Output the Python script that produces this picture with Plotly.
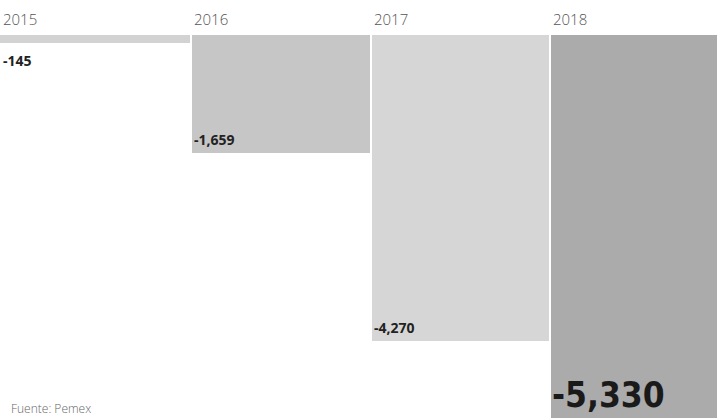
import plotly.graph_objects as go

years = ["2015", "2016", "2017", "2018"]
values = [-145, -1659, -4270, -5330]
value_labels = ["-145", "-1,659", "-4,270", "-5,330"]
bar_colors = ["#d2d2d2", "#c6c6c6", "#d6d6d6", "#ababab"]
source = "Fuente: Pemex"

x_pos = list(range(len(years)))
x_lo, x_hi = -0.565, 3.43
bar_widths = [1.2, 1, 1, 1]
bar_offsets = [-0.7, -0.5, -0.5, -0.5]

fig = go.Figure()
fig.add_trace(go.Bar(
    x=x_pos, y=values, width=bar_widths, offset=bar_offsets,
    marker=dict(color=bar_colors, line=dict(color="white", width=2)),
    hoverinfo="skip", showlegend=False,
))

ann = []
for i, (yr, v, lab) in enumerate(zip(years, values, value_labels)):
    left = max(i + bar_offsets[i], x_lo)
    ann.append(dict(x=left, y=0, xref="x", yref="y", text=yr, showarrow=False,
                    xanchor="left", yanchor="bottom", xshift=1, yshift=3,
                    font=dict(family="Open Sans", size=15, color="#555", weight=300)))
    if i == 0:
        ann.append(dict(x=left, y=v, xref="x", yref="y", text=lab, showarrow=False,
                        xanchor="left", yanchor="top", xshift=1, yshift=-5,
                        font=dict(family="Open Sans", size=14, color="#222", weight=700)))
    elif i == len(years) - 1:
        ann.append(dict(x=left, y=v, xref="x", yref="y", text=lab, showarrow=False,
                        xanchor="left", yanchor="bottom", xshift=0, yshift=2,
                        font=dict(family="DejaVu Sans Condensed, Roboto Condensed, Arial Narrow, sans-serif",
                                  size=35, color="#1a1a1a", weight=700)))
    else:
        ann.append(dict(x=left, y=v, xref="x", yref="y", text=lab, showarrow=False,
                        xanchor="left", yanchor="bottom", xshift=1, yshift=3,
                        font=dict(family="Open Sans", size=14, color="#222", weight=700)))

ann.append(dict(x=0.012, y=0.0, xref="paper", yref="paper", text=source, showarrow=False,
                xanchor="left", yanchor="bottom", yshift=0,
                font=dict(family="Open Sans", size=12, color="#666", weight=300)))

fig.update_layout(
    width=717, height=419,
    margin=dict(l=0, r=0, t=34, b=0),
    paper_bgcolor="white", plot_bgcolor="white",
    bargap=0,
    xaxis=dict(range=[x_lo, x_hi], visible=False),
    yaxis=dict(range=[-5330, 0], visible=False),
    annotations=ann,
)

fig.write_html("out.html", config={"displayModeBar": False},
               post_script="document.body.style.margin='0';document.body.style.overflow='hidden';")
